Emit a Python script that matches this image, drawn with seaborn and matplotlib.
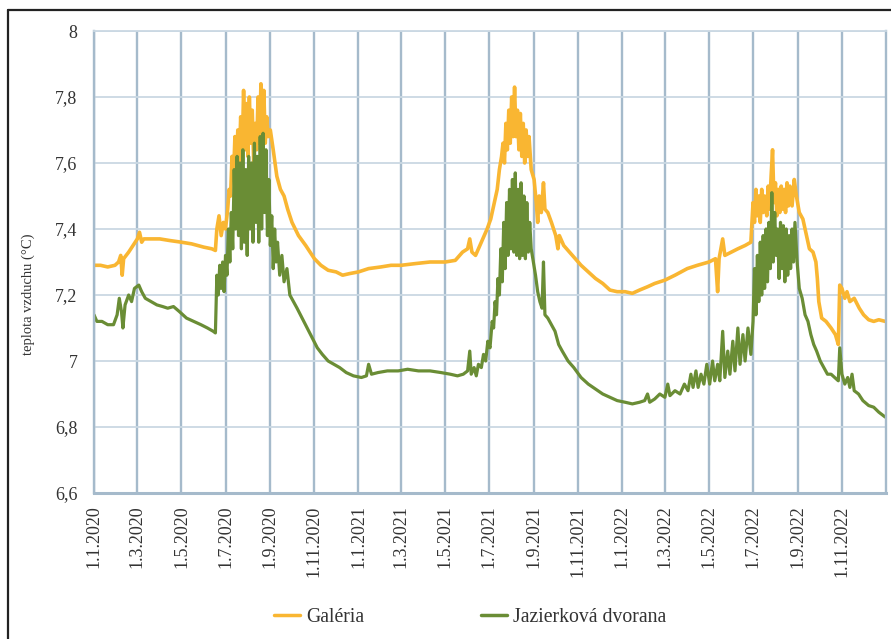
import matplotlib
matplotlib.use("Agg")
import matplotlib.pyplot as plt
from matplotlib.lines import Line2D
import pandas as pd
import seaborn as sns

# Air temperature readings (°C) for the two cave sections, by year
galeria_2020 = [
    ("2020-01-01", 7.29), ("2020-01-10", 7.29), ("2020-01-20", 7.285), ("2020-01-30", 7.29),
    ("2020-02-04", 7.30), ("2020-02-07", 7.32), ("2020-02-09", 7.26), ("2020-02-11", 7.31),
    ("2020-02-18", 7.33), ("2020-02-24", 7.35), ("2020-03-01", 7.37), ("2020-03-04", 7.39),
    ("2020-03-07", 7.36), ("2020-03-10", 7.37), ("2020-03-20", 7.37), ("2020-04-01", 7.37),
    ("2020-04-15", 7.365), ("2020-05-01", 7.36), ("2020-05-15", 7.355), ("2020-06-01", 7.345),
    ("2020-06-12", 7.34), ("2020-06-17", 7.335), ("2020-06-19", 7.40), ("2020-06-22", 7.44),
    ("2020-06-25", 7.38), ("2020-06-28", 7.42), ("2020-07-01", 7.40), ("2020-07-04", 7.46),
    ("2020-07-06", 7.52), ("2020-07-08", 7.50), ("2020-07-10", 7.62), ("2020-07-12", 7.55),
    ("2020-07-14", 7.68), ("2020-07-16", 7.58), ("2020-07-18", 7.70), ("2020-07-20", 7.60),
    ("2020-07-22", 7.74), ("2020-07-24", 7.62), ("2020-07-26", 7.82), ("2020-07-28", 7.64),
    ("2020-07-30", 7.78), ("2020-08-01", 7.62), ("2020-08-03", 7.80), ("2020-08-05", 7.66),
    ("2020-08-07", 7.76), ("2020-08-09", 7.60), ("2020-08-11", 7.72), ("2020-08-13", 7.64),
    ("2020-08-15", 7.80), ("2020-08-17", 7.66), ("2020-08-19", 7.84), ("2020-08-21", 7.68),
    ("2020-08-23", 7.82), ("2020-08-25", 7.66), ("2020-08-27", 7.74), ("2020-08-29", 7.68),
    ("2020-09-01", 7.70), ("2020-09-05", 7.64), ("2020-09-10", 7.56), ("2020-09-15", 7.52),
    ("2020-09-20", 7.50), ("2020-09-25", 7.46), ("2020-10-01", 7.42), ("2020-10-10", 7.38),
    ("2020-10-20", 7.35), ("2020-11-01", 7.31), ("2020-11-10", 7.29), ("2020-11-20", 7.275),
    ("2020-12-01", 7.27), ("2020-12-10", 7.26), ("2020-12-20", 7.265),
]
galeria_2021 = [
    ("2021-01-01", 7.27), ("2021-01-15", 7.28), ("2021-02-01", 7.285), ("2021-02-15", 7.29),
    ("2021-03-01", 7.29), ("2021-03-20", 7.295), ("2021-04-10", 7.30), ("2021-05-01", 7.30),
    ("2021-05-15", 7.305), ("2021-05-25", 7.33), ("2021-06-01", 7.34), ("2021-06-04", 7.37),
    ("2021-06-07", 7.33), ("2021-06-12", 7.32), ("2021-06-20", 7.36), ("2021-06-28", 7.40),
    ("2021-07-03", 7.43), ("2021-07-08", 7.48), ("2021-07-12", 7.52), ("2021-07-15", 7.58),
    ("2021-07-18", 7.62), ("2021-07-20", 7.66), ("2021-07-22", 7.60), ("2021-07-24", 7.72),
    ("2021-07-26", 7.64), ("2021-07-28", 7.76), ("2021-07-30", 7.66), ("2021-08-01", 7.80),
    ("2021-08-03", 7.68), ("2021-08-05", 7.83), ("2021-08-07", 7.68), ("2021-08-09", 7.76),
    ("2021-08-11", 7.64), ("2021-08-13", 7.75), ("2021-08-15", 7.62), ("2021-08-17", 7.72),
    ("2021-08-19", 7.60), ("2021-08-21", 7.70), ("2021-08-23", 7.62), ("2021-08-25", 7.68),
    ("2021-08-28", 7.58), ("2021-09-01", 7.55), ("2021-09-04", 7.48), ("2021-09-06", 7.42),
    ("2021-09-08", 7.50), ("2021-09-11", 7.45), ("2021-09-14", 7.54), ("2021-09-16", 7.46),
    ("2021-09-20", 7.45), ("2021-09-25", 7.42), ("2021-10-01", 7.38), ("2021-10-04", 7.34),
    ("2021-10-06", 7.38), ("2021-10-12", 7.35), ("2021-10-20", 7.33), ("2021-10-28", 7.31),
    ("2021-11-05", 7.29), ("2021-11-15", 7.27), ("2021-11-25", 7.25), ("2021-12-05", 7.235),
    ("2021-12-15", 7.215), ("2021-12-25", 7.21),
]
galeria_2022 = [
    ("2022-01-05", 7.21), ("2022-01-15", 7.205), ("2022-01-25", 7.215), ("2022-02-05", 7.225),
    ("2022-02-15", 7.235), ("2022-03-01", 7.245), ("2022-03-15", 7.26), ("2022-04-01", 7.28),
    ("2022-04-15", 7.29), ("2022-05-01", 7.30), ("2022-05-10", 7.31), ("2022-05-13", 7.21),
    ("2022-05-15", 7.31), ("2022-05-20", 7.37), ("2022-05-23", 7.32), ("2022-06-01", 7.33),
    ("2022-06-10", 7.34), ("2022-06-20", 7.35), ("2022-06-28", 7.36), ("2022-07-01", 7.48),
    ("2022-07-03", 7.42), ("2022-07-05", 7.52), ("2022-07-07", 7.44), ("2022-07-09", 7.50),
    ("2022-07-11", 7.42), ("2022-07-13", 7.52), ("2022-07-15", 7.45), ("2022-07-17", 7.50),
    ("2022-07-20", 7.44), ("2022-07-22", 7.53), ("2022-07-24", 7.46), ("2022-07-26", 7.56),
    ("2022-07-28", 7.64), ("2022-07-30", 7.48), ("2022-08-01", 7.54), ("2022-08-03", 7.44),
    ("2022-08-05", 7.52), ("2022-08-07", 7.45), ("2022-08-09", 7.53), ("2022-08-11", 7.46),
    ("2022-08-13", 7.52), ("2022-08-15", 7.45), ("2022-08-17", 7.54), ("2022-08-19", 7.47),
    ("2022-08-21", 7.53), ("2022-08-24", 7.47), ("2022-08-27", 7.55), ("2022-08-30", 7.50),
    ("2022-09-03", 7.45), ("2022-09-08", 7.43), ("2022-09-13", 7.38), ("2022-09-17", 7.34),
    ("2022-09-22", 7.33), ("2022-09-26", 7.30), ("2022-09-28", 7.25), ("2022-09-30", 7.18),
    ("2022-10-04", 7.13), ("2022-10-10", 7.12), ("2022-10-17", 7.10), ("2022-10-23", 7.08),
    ("2022-10-27", 7.05), ("2022-10-29", 7.23), ("2022-11-01", 7.22), ("2022-11-05", 7.19),
    ("2022-11-08", 7.21), ("2022-11-12", 7.18), ("2022-11-18", 7.19), ("2022-11-25", 7.16),
    ("2022-12-01", 7.14), ("2022-12-08", 7.125), ("2022-12-15", 7.12), ("2022-12-22", 7.125),
    ("2022-12-31", 7.12),
]

jazierkova_2020 = [
    ("2020-01-01", 7.14), ("2020-01-05", 7.12), ("2020-01-12", 7.12), ("2020-01-20", 7.11),
    ("2020-01-28", 7.11), ("2020-02-02", 7.14), ("2020-02-05", 7.19), ("2020-02-08", 7.15),
    ("2020-02-10", 7.10), ("2020-02-13", 7.17), ("2020-02-18", 7.20), ("2020-02-22", 7.18),
    ("2020-02-26", 7.22), ("2020-03-03", 7.23), ("2020-03-07", 7.21), ("2020-03-12", 7.19),
    ("2020-03-20", 7.18), ("2020-03-28", 7.17), ("2020-04-05", 7.165), ("2020-04-12", 7.16),
    ("2020-04-20", 7.165), ("2020-04-28", 7.15), ("2020-05-08", 7.13), ("2020-05-18", 7.12),
    ("2020-05-28", 7.11), ("2020-06-06", 7.10), ("2020-06-14", 7.09), ("2020-06-17", 7.085),
    ("2020-06-19", 7.26), ("2020-06-21", 7.20), ("2020-06-23", 7.29), ("2020-06-25", 7.22),
    ("2020-06-27", 7.30), ("2020-06-29", 7.21), ("2020-07-01", 7.32), ("2020-07-03", 7.26),
    ("2020-07-05", 7.40), ("2020-07-07", 7.30), ("2020-07-09", 7.45), ("2020-07-11", 7.34),
    ("2020-07-13", 7.58), ("2020-07-15", 7.40), ("2020-07-17", 7.62), ("2020-07-19", 7.38),
    ("2020-07-21", 7.60), ("2020-07-23", 7.34), ("2020-07-25", 7.64), ("2020-07-27", 7.36),
    ("2020-07-29", 7.58), ("2020-07-31", 7.32), ("2020-08-02", 7.62), ("2020-08-04", 7.40),
    ("2020-08-06", 7.60), ("2020-08-08", 7.36), ("2020-08-10", 7.66), ("2020-08-12", 7.42),
    ("2020-08-14", 7.62), ("2020-08-16", 7.36), ("2020-08-18", 7.68), ("2020-08-20", 7.40),
    ("2020-08-22", 7.69), ("2020-08-24", 7.45), ("2020-08-26", 7.64), ("2020-08-28", 7.38),
    ("2020-08-30", 7.55), ("2020-09-01", 7.35), ("2020-09-03", 7.44), ("2020-09-05", 7.28),
    ("2020-09-07", 7.40), ("2020-09-09", 7.30), ("2020-09-11", 7.36), ("2020-09-14", 7.26),
    ("2020-09-17", 7.32), ("2020-09-20", 7.24), ("2020-09-24", 7.28), ("2020-09-28", 7.20),
    ("2020-10-03", 7.18), ("2020-10-08", 7.16), ("2020-10-15", 7.13), ("2020-10-22", 7.10),
    ("2020-10-29", 7.07), ("2020-11-05", 7.04), ("2020-11-12", 7.02), ("2020-11-20", 7.00),
    ("2020-11-28", 6.99), ("2020-12-06", 6.98), ("2020-12-15", 6.965), ("2020-12-25", 6.955),
]
jazierkova_2021 = [
    ("2021-01-05", 6.95), ("2021-01-12", 6.955), ("2021-01-15", 6.99), ("2021-01-19", 6.96),
    ("2021-01-28", 6.965), ("2021-02-10", 6.97), ("2021-02-25", 6.97), ("2021-03-10", 6.975),
    ("2021-03-25", 6.97), ("2021-04-10", 6.97), ("2021-04-25", 6.965), ("2021-05-08", 6.96),
    ("2021-05-18", 6.955), ("2021-05-26", 6.96), ("2021-06-01", 6.97), ("2021-06-04", 7.03),
    ("2021-06-06", 6.96), ("2021-06-10", 6.98), ("2021-06-13", 6.955), ("2021-06-16", 6.99),
    ("2021-06-20", 6.98), ("2021-06-23", 7.02), ("2021-06-26", 7.00), ("2021-06-29", 7.06),
    ("2021-07-02", 7.04), ("2021-07-05", 7.12), ("2021-07-07", 7.10), ("2021-07-09", 7.18),
    ("2021-07-11", 7.14), ("2021-07-13", 7.25), ("2021-07-15", 7.20), ("2021-07-17", 7.34),
    ("2021-07-19", 7.24), ("2021-07-21", 7.42), ("2021-07-23", 7.28), ("2021-07-25", 7.48),
    ("2021-07-27", 7.32), ("2021-07-29", 7.52), ("2021-07-31", 7.34), ("2021-08-02", 7.55),
    ("2021-08-04", 7.33), ("2021-08-06", 7.57), ("2021-08-08", 7.32), ("2021-08-10", 7.52),
    ("2021-08-12", 7.31), ("2021-08-14", 7.54), ("2021-08-16", 7.32), ("2021-08-18", 7.50),
    ("2021-08-20", 7.31), ("2021-08-22", 7.48), ("2021-08-24", 7.33), ("2021-08-26", 7.42),
    ("2021-08-28", 7.34), ("2021-08-31", 7.30), ("2021-09-03", 7.26), ("2021-09-06", 7.21),
    ("2021-09-09", 7.18), ("2021-09-12", 7.16), ("2021-09-14", 7.30), ("2021-09-16", 7.14),
    ("2021-09-20", 7.13), ("2021-09-25", 7.11), ("2021-09-30", 7.09), ("2021-10-05", 7.05),
    ("2021-10-10", 7.03), ("2021-10-18", 7.00), ("2021-10-26", 6.98), ("2021-11-05", 6.95),
    ("2021-11-15", 6.93), ("2021-11-25", 6.915), ("2021-12-05", 6.90), ("2021-12-15", 6.89),
    ("2021-12-25", 6.88),
]
jazierkova_2022 = [
    ("2022-01-05", 6.875), ("2022-01-15", 6.87), ("2022-01-25", 6.875), ("2022-02-01", 6.88),
    ("2022-02-05", 6.90), ("2022-02-08", 6.875), ("2022-02-15", 6.885), ("2022-02-22", 6.90),
    ("2022-03-01", 6.89), ("2022-03-05", 6.93), ("2022-03-08", 6.895), ("2022-03-15", 6.91),
    ("2022-03-22", 6.90), ("2022-03-28", 6.93), ("2022-04-02", 6.91), ("2022-04-06", 6.96),
    ("2022-04-09", 6.92), ("2022-04-13", 6.97), ("2022-04-16", 6.92), ("2022-04-20", 6.96),
    ("2022-04-24", 6.93), ("2022-04-28", 6.99), ("2022-05-02", 6.93), ("2022-05-06", 7.00),
    ("2022-05-09", 6.94), ("2022-05-13", 6.99), ("2022-05-16", 6.94), ("2022-05-20", 7.09),
    ("2022-05-23", 6.95), ("2022-05-27", 7.03), ("2022-05-30", 6.96), ("2022-06-03", 7.06),
    ("2022-06-06", 6.97), ("2022-06-10", 7.10), ("2022-06-13", 6.99), ("2022-06-17", 7.08),
    ("2022-06-20", 7.00), ("2022-06-24", 7.10), ("2022-06-28", 7.02), ("2022-07-01", 7.12),
    ("2022-07-03", 7.28), ("2022-07-05", 7.14), ("2022-07-07", 7.32), ("2022-07-09", 7.18),
    ("2022-07-11", 7.36), ("2022-07-13", 7.20), ("2022-07-15", 7.38), ("2022-07-17", 7.22),
    ("2022-07-19", 7.40), ("2022-07-21", 7.24), ("2022-07-23", 7.42), ("2022-07-25", 7.28),
    ("2022-07-27", 7.51), ("2022-07-29", 7.30), ("2022-07-31", 7.45), ("2022-08-02", 7.32),
    ("2022-08-04", 7.40), ("2022-08-06", 7.25), ("2022-08-08", 7.42), ("2022-08-10", 7.28),
    ("2022-08-12", 7.41), ("2022-08-14", 7.24), ("2022-08-16", 7.40), ("2022-08-18", 7.26),
    ("2022-08-20", 7.38), ("2022-08-22", 7.28), ("2022-08-24", 7.40), ("2022-08-26", 7.30),
    ("2022-08-28", 7.42), ("2022-08-31", 7.30), ("2022-09-03", 7.22), ("2022-09-07", 7.19),
    ("2022-09-11", 7.14), ("2022-09-15", 7.12), ("2022-09-19", 7.08), ("2022-09-23", 7.05),
    ("2022-09-27", 7.03), ("2022-10-02", 7.00), ("2022-10-07", 6.98), ("2022-10-12", 6.96),
    ("2022-10-17", 6.96), ("2022-10-22", 6.95), ("2022-10-27", 6.94), ("2022-10-29", 7.04),
    ("2022-11-01", 6.96), ("2022-11-05", 6.93), ("2022-11-09", 6.95), ("2022-11-12", 6.92),
    ("2022-11-15", 6.96), ("2022-11-18", 6.91), ("2022-11-24", 6.90), ("2022-11-30", 6.88),
    ("2022-12-08", 6.865), ("2022-12-15", 6.86), ("2022-12-22", 6.845), ("2022-12-31", 6.83),
]

series_names = ["Galéria", "Jazierková dvorana"]
series_colors = ["#F9B632", "#6A8D35"]
series_widths = [2.6, 2.3]

x_tick_dates = ["2020-01-01", "2020-03-01", "2020-05-01", "2020-07-01", "2020-09-01", "2020-11-01",
                "2021-01-01", "2021-03-01", "2021-05-01", "2021-07-01", "2021-09-01", "2021-11-01",
                "2022-01-01", "2022-03-01", "2022-05-01", "2022-07-01", "2022-09-01", "2022-11-01"]
x_tick_labels = ["1.1.2020", "1.3.2020", "1.5.2020", "1.7.2020", "1.9.2020", "1.11.2020",
                 "1.1.2021", "1.3.2021", "1.5.2021", "1.7.2021", "1.9.2021", "1.11.2021",
                 "1.1.2022", "1.3.2022", "1.5.2022", "1.7.2022", "1.9.2022", "1.11.2022"]
y_ticks = [6.6, 6.8, 7.0, 7.2, 7.4, 7.6, 7.8, 8.0]
y_tick_labels = ["6,6", "6,8", "7", "7,2", "7,4", "7,6", "7,8", "8"]

frames = []
for name, parts in zip(series_names,
                       [galeria_2020 + galeria_2021 + galeria_2022,
                        jazierkova_2020 + jazierkova_2021 + jazierkova_2022]):
    df = pd.DataFrame(parts, columns=["datum", "teplota"])
    df["miesto"] = name
    frames.append(df)
data = pd.concat(frames, ignore_index=True)
data["datum"] = pd.to_datetime(data["datum"])

sns.set_theme(style="white")
plt.rcParams["font.family"] = ["Liberation Serif", "DejaVu Serif"]

fig = plt.figure(figsize=(8.91, 6.39), dpi=100)
ax = fig.add_axes([94 / 891, 146 / 639, 792 / 891, 462 / 639])

# one call per series so each keeps its own stroke width; green drawn over orange
for name, color, lw in zip(series_names, series_colors, series_widths):
    sns.lineplot(data=data[data["miesto"] == name], x="datum", y="teplota",
                 color=color, estimator=None, sort=True, linewidth=lw, ax=ax)

ax.set_xlim(pd.Timestamp("2020-01-01"), pd.Timestamp("2023-01-01"))
ax.set_ylim(6.6, 8.0)

vgrid = "#A5BACB"
hgrid = "#CAD8E3"
ax.set_xticks(pd.to_datetime(x_tick_dates))
ax.set_xticklabels(x_tick_labels, rotation=90, fontsize=13, color="#333333")
ax.set_yticks(y_ticks)
ax.set_yticklabels(y_tick_labels, fontsize=13, color="#333333")
ax.grid(True, axis="x", color=vgrid, linewidth=1.7)
ax.grid(True, axis="y", color=hgrid, linewidth=1.3)
ax.set_axisbelow(True)
ax.tick_params(axis="x", direction="out", length=6, width=1.6, color=vgrid, pad=3)
ax.tick_params(axis="y", length=0, pad=12)
for side, sp in ax.spines.items():
    sp.set_visible(True)
    sp.set_color(vgrid)
    sp.set_linewidth(1.7)
ax.spines["top"].set_color(hgrid)
ax.spines["top"].set_linewidth(1.3)
ax.spines["bottom"].set_linewidth(2.2)

ax.set_xlabel("")
ax.set_ylabel("teplota vzduchu (°C)", fontsize=10.5, color="#333333")
ax.yaxis.set_label_coords(-0.0745, 0.43)

handles = [Line2D([0], [0], color=c, linewidth=2.5) for c in series_colors]
fig.legend(handles, series_names, loc="center", bbox_to_anchor=(470 / 891, 1 - 617 / 639),
           ncol=2, frameon=False, fontsize=14.2, handlelength=1.35, handletextpad=0.3,
           columnspacing=5.9, labelcolor="#333333")

# outer frame of the figure
fig.add_artist(Line2D([7.5 / 891, 7.5 / 891], [0, 1 - 10 / 639], transform=fig.transFigure,
                      color="#222222", linewidth=1.6))
fig.add_artist(Line2D([7.5 / 891, 1], [1 - 10 / 639, 1 - 10 / 639], transform=fig.transFigure,
                      color="#222222", linewidth=1.6))

fig.savefig("out.png", dpi=100)
